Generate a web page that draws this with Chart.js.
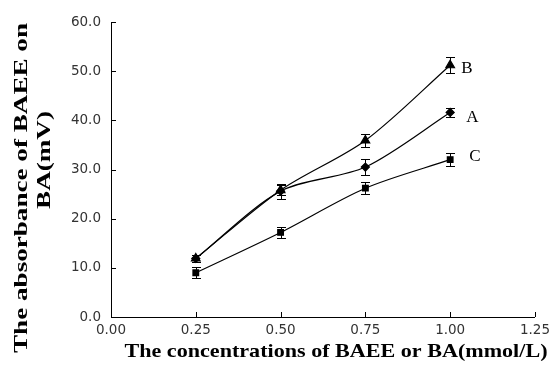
<!DOCTYPE html>
<html lang="en">
<head>
    <meta charset="UTF-8">
    <title>BAEE / BA absorbance</title>
    <script src="https://cdn.jsdelivr.net/npm/chart.js@4.4.0/dist/chart.umd.min.js"></script>
    <style>
        html, body { margin: 0; padding: 0; background: #fff; }
        #wrap { width: 555px; height: 379px; }
    </style>
</head>
<body>
    <div id="wrap"><canvas id="absChart"></canvas></div>

    <script>
        // concentrations (mmol/L)
        const concentrations = [0.25, 0.50, 0.75, 1.00];

        // series values (mV) and their error bars
        const seriesA = [11.9, 25.6, 30.5, 41.6];
        const seriesAErr = [0.8, 1.5, 1.6, 1.0];
        const seriesB = [11.9, 25.8, 35.9, 51.2];
        const seriesBErr = [0.8, 1.0, 1.4, 1.6];
        const seriesC = [9.0, 17.2, 26.2, 32.0];
        const seriesCErr = [1.1, 1.2, 1.2, 1.3];

        const seriesLabels = ["A", "B", "C"];
        const xTitle = "The concentrations of BAEE or BA(mmol/L)";
        const yTitle = ["The absorbance of BAEE on", "BA(mV)"];

        const serif = "'Liberation Serif', 'Times New Roman', serif";
        const sans = "'DejaVu Sans', sans-serif";

        function toPoints(vals) {
            return vals.map((v, i) => ({ x: concentrations[i], y: v }));
        }

        // text stretched along its baseline (the source image has wide titles)
        function stretchedText(c, text, x, y, k) {
            c.save();
            c.translate(x, y);
            c.scale(k, 1);
            c.fillText(text, 0, 0);
            c.restore();
        }

        // error bars, inner tick marks, series letters and axis titles
        const extras = {
            id: "extras",
            afterDatasetsDraw(chart) {
                const c = chart.ctx;
                const xs = chart.scales.x, ys = chart.scales.y;
                const area = chart.chartArea;
                c.save();
                c.strokeStyle = "#000";
                c.lineWidth = 1;

                // error bars
                chart.data.datasets.forEach(ds => {
                    ds.data.forEach((p, i) => {
                        const px = Math.round(xs.getPixelForValue(p.x)) + 0.5;
                        const top = Math.round(ys.getPixelForValue(p.y + ds.err[i])) + 0.5;
                        const bot = Math.round(ys.getPixelForValue(p.y - ds.err[i])) + 0.5;
                        c.beginPath();
                        c.moveTo(px, top); c.lineTo(px, bot);
                        c.moveTo(px - 4.5, top); c.lineTo(px + 4.5, top);
                        c.moveTo(px - 4.5, bot); c.lineTo(px + 4.5, bot);
                        c.stroke();
                    });
                });

                // tick marks pointing into the plot
                c.beginPath();
                xs.ticks.forEach(t => {
                    const px = Math.round(xs.getPixelForValue(t.value)) + 0.5;
                    c.moveTo(px, area.bottom); c.lineTo(px, area.bottom - 5);
                });
                ys.ticks.forEach(t => {
                    const py = Math.round(ys.getPixelForValue(t.value)) + 0.5;
                    c.moveTo(area.left, py); c.lineTo(area.left + 5, py);
                });
                c.stroke();

                // series letters at the right end of each curve
                c.fillStyle = "#000";
                c.font = "17px " + serif;
                c.textBaseline = "middle";
                chart.data.datasets.forEach(ds => {
                    const last = ds.data[ds.data.length - 1];
                    c.fillText(ds.label, xs.getPixelForValue(last.x) + ds.labelDx,
                        ys.getPixelForValue(last.y) + ds.labelDy);
                });

                // x axis title
                c.font = "bold 19px " + serif;
                c.textAlign = "center";
                const xw = c.measureText(xTitle).width;
                stretchedText(c, xTitle, 336, 352, 423 / xw);

                // y axis title (two lines, rotated)
                c.rotate(-Math.PI / 2);
                const k = 330 / c.measureText(yTitle[0]).width;
                stretchedText(c, yTitle[0], -188, 22, k);
                stretchedText(c, yTitle[1], -160, 45, k);
                c.restore();
            }
        };

        const common = {
            borderColor: "#000",
            backgroundColor: "#000",
            pointBorderColor: "#000",
            pointBackgroundColor: "#000",
            borderWidth: 1.2,
            tension: 0.3,
            fill: false
        };

        new Chart(document.getElementById("absChart"), {
            type: "line",
            data: {
                datasets: [
                    Object.assign({}, common, {
                        label: seriesLabels[0], data: toPoints(seriesA), err: seriesAErr,
                        pointStyle: "rectRot", pointRadius: 4, labelDx: 16, labelDy: 5
                    }),
                    Object.assign({}, common, {
                        label: seriesLabels[1], data: toPoints(seriesB), err: seriesBErr,
                        pointStyle: "triangle", pointRadius: 5, labelDx: 11, labelDy: 3
                    }),
                    Object.assign({}, common, {
                        label: seriesLabels[2], data: toPoints(seriesC), err: seriesCErr,
                        pointStyle: "rect", pointRadius: 4, labelDx: 19, labelDy: -3
                    })
                ]
            },
            options: {
                responsive: true,
                maintainAspectRatio: false,
                animation: false,
                layout: { padding: { top: 22, right: 16, left: 0, bottom: 0 } },
                plugins: {
                    legend: { display: false },
                    tooltip: { enabled: false }
                },
                scales: {
                    x: {
                        type: "linear",
                        min: 0, max: 1.25,
                        afterFit(s) { s.height = 62; },
                        grid: { display: false, drawTicks: false },
                        border: { display: true, color: "#000", width: 1 },
                        ticks: {
                            stepSize: 0.25,
                            padding: 5,
                            color: "#333",
                            font: { family: sans, size: 13.5 },
                            callback: v => v.toFixed(2)
                        }
                    },
                    y: {
                        min: 0, max: 60,
                        afterFit(s) { s.width = 111; },
                        grid: { display: false, drawTicks: false },
                        border: { display: true, color: "#000", width: 1 },
                        ticks: {
                            stepSize: 10,
                            padding: 10,
                            color: "#333",
                            font: { family: sans, size: 13.5 },
                            callback: v => v.toFixed(1)
                        }
                    }
                }
            },
            plugins: [extras]
        });
    </script>
</body>
</html>
